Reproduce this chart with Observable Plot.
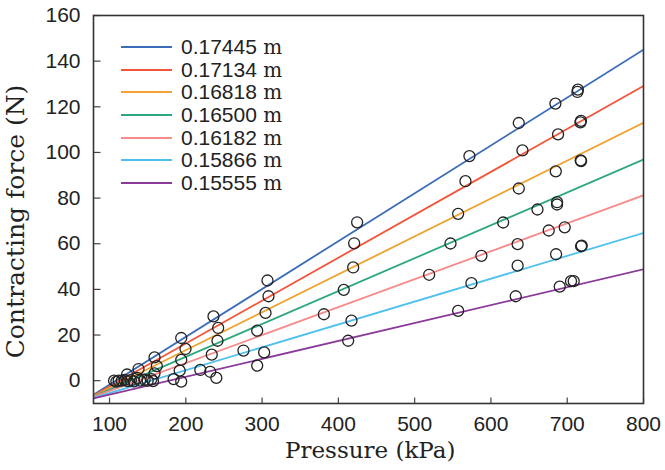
<!DOCTYPE html>
<html>
<head>
<meta charset="utf-8">
<script src="https://cdn.jsdelivr.net/npm/d3@7"></script>
<script src="https://cdn.jsdelivr.net/npm/@observablehq/plot@0.6"></script>
<style>
  html, body { margin: 0; padding: 0; background: #fff; }
  #wrap { position: relative; width: 665px; height: 470px; overflow: hidden; }
  .lbl { position: absolute; font-family: "DejaVu Serif", serif; font-size: 23px; color: #222; white-space: nowrap; }
  #legend { position: absolute; left: 121px; top: 36px; }
  .row { position: relative; height: 22.7px; }
  .sw { position: absolute; left: 0; top: 10px; width: 51px; height: 2px; }
  .txt { position: absolute; left: 60px; top: 0; line-height: 22.7px; white-space: nowrap; }
  .num { font-family: "Liberation Sans", sans-serif; font-size: 21px; color: #222; }
  .unit { font-family: "DejaVu Serif", serif; font-size: 20px; color: #222; }
</style>
</head>
<body>
<div id="wrap"></div>
<script>
// Lengths (legend labels) and colours
const lengths = ["0.17445", "0.17134", "0.16818", "0.16500", "0.16182", "0.15866", "0.15555"];
const colors = ["#3b6cb8", "#f2553a", "#f0a232", "#2ca87a", "#f88a8a", "#4ec0f0", "#8b3a9a"];

// Fitted lines: force at the start and end pressure
const linePressure = [79, 800];
const lineForceStart = [-6.2, -6.5, -6.7, -7.0, -7.1, -7.5, -7.8];
const lineForceEnd = [145.0, 129.1, 113.0, 96.9, 81.2, 64.7, 48.8];

// Measured points (pressure kPa, force N)
const pointPressure = [
  106, 109, 112, 116, 120, 124, 128, 132, 136, 140, 146, 150, 155, 157,
  123, 138, 159, 162, 159,
  184, 194, 192, 194, 199.6, 194,
  219, 232, 240, 234, 241.5, 242.4, 236.3,
  275.6, 293.6, 302.7, 293.6, 304.5, 308.4, 307.1,
  381, 412.8, 417.2, 407.1, 419.4, 420.7, 424.6,
  519, 557, 574.4, 587.5, 547, 557, 566.6, 571.8,
  616, 661, 675.8, 696.7, 632.5, 635, 635, 636.5, 641.3, 636.5,
  684.5, 688, 685, 686.7, 686.7, 685.4, 690.2, 705, 708.5,
  713.4, 714, 717.3, 718, 717.7, 718.2, 718.2, 719
];
const pointForce = [
  0, -0.4, 0, 0, 0.3, -0.2, 0.2, -0.3, 1.2, 0, 0.4, 0, 0.7, -0.2,
  2.7, 5.1, 10.2, 6.4, 3.2,
  0.7, -0.4, 4.4, 9.1, 13.9, 18.7,
  4.7, 3.9, 1.2, 11.4, 17.5, 23.1, 28.2,
  13.2, 6.6, 12.4, 21.9, 29.7, 37.0, 43.9,
  29.1, 17.5, 26.3, 39.8, 49.6, 60.2, 69.4,
  46.4, 30.6, 42.7, 54.7, 60.1, 73.1, 87.4, 98.4,
  69.3, 75.0, 65.8, 67.2, 37.0, 50.4, 59.8, 84.2, 100.9, 112.9,
  121.4, 107.9, 91.7, 78.2, 77.2, 55.4, 41.2, 43.6, 43.6,
  126.5, 127.5, 113.2, 113.8, 96.5, 96.2, 58.9, 59.2
];

const xTicks = [100, 200, 300, 400, 500, 600, 700, 800];
const yTicks = [0, 20, 40, 60, 80, 100, 120, 140, 160];
const xDomain = [79, 800];
const yDomain = [-10, 160];

const lineRows = [];
lengths.forEach((L, i) => {
  lineRows.push({len: L, p: linePressure[0], f: lineForceStart[i]});
  lineRows.push({len: L, p: linePressure[1], f: lineForceEnd[i]});
});
const points = pointPressure.map((p, i) => ({p, f: pointForce[i]}));

// inward tick symbols
const tickUpSymbol = {draw(ctx) { ctx.moveTo(0, 0); ctx.lineTo(0, -6); }};
const tickRightSymbol = {draw(ctx) { ctx.moveTo(0, 0); ctx.lineTo(7, 0); }};

const chart = Plot.plot({
  width: 665,
  height: 470,
  marginLeft: 93,
  marginRight: 22,
  marginTop: 15,
  marginBottom: 67,
  style: {fontFamily: "Liberation Sans, sans-serif", fontSize: "21px", color: "#222", background: "#fff"},
  x: {domain: xDomain},
  y: {domain: yDomain},
  color: {domain: lengths, range: colors},
  marks: [
    Plot.line(lineRows, {x: "p", y: "f", z: "len", stroke: "len", strokeWidth: 1.8, clip: true}),
    Plot.dot(points, {x: "p", y: "f", r: 5.5, stroke: "#222", strokeWidth: 1.3, fill: "none"}),
    Plot.dot(xTicks, {x: d => d, y: yDomain[0], symbol: tickUpSymbol, r: 3, stroke: "#444", strokeWidth: 1.2, fill: "none"}),
    Plot.dot(yTicks, {x: xDomain[0], y: d => d, symbol: tickRightSymbol, r: 3, stroke: "#444", strokeWidth: 1.2, fill: "none"}),
    Plot.axisX(xTicks, {tickSize: 0, tickPadding: 13, label: null, fontSize: 21}),
    Plot.axisY(yTicks, {tickSize: 0, tickPadding: 13, label: null, fontSize: 21}),
    Plot.frame({stroke: "#333", strokeWidth: 1.6})
  ]
});

const wrap = document.getElementById("wrap");
wrap.appendChild(chart);

const xl = document.createElement("div");
xl.className = "lbl";
xl.textContent = "Pressure (kPa)";
wrap.appendChild(xl);
xl.style.left = (370 - xl.offsetWidth / 2) + "px";
xl.style.top = "437px";

const yl = document.createElement("div");
yl.className = "lbl";
yl.style.fontSize = "25px";
yl.textContent = "Contracting force (N)";
wrap.appendChild(yl);
yl.style.left = (16 - yl.offsetWidth / 2) + "px";
yl.style.top = (221 - yl.offsetHeight / 2) + "px";
yl.style.transform = "rotate(-90deg)";

const legend = document.createElement("div");
legend.id = "legend";
lengths.forEach((L, i) => {
  const row = document.createElement("div");
  row.className = "row";
  const sw = document.createElement("div");
  sw.className = "sw";
  sw.style.background = colors[i];
  const txt = document.createElement("div");
  txt.className = "txt";
  const num = document.createElement("span");
  num.className = "num";
  num.textContent = L;
  const unit = document.createElement("span");
  unit.className = "unit";
  unit.textContent = "\u00a0m";
  txt.appendChild(num);
  txt.appendChild(unit);
  row.appendChild(sw);
  row.appendChild(txt);
  legend.appendChild(row);
});
wrap.appendChild(legend);
</script>
</body>
</html>
